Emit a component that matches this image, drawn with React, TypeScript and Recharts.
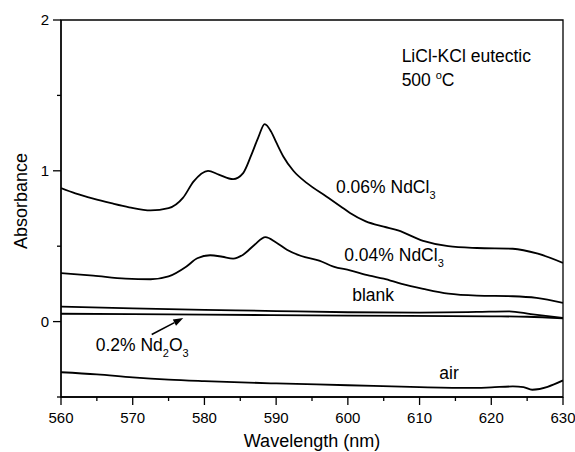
import React from 'react';
import {
    LineChart,
    Line,
    XAxis,
    YAxis,
    ReferenceArea,
    ReferenceDot,
    ReferenceLine,
} from 'recharts';

const FONT = '"Liberation Sans", Arial, Helvetica, sans-serif';

// 0.06% NdCl3
const nd006Wl = [560, 562, 564.5, 567, 569.5, 572.5, 575, 577, 578.5, 580.5, 582, 584, 585.4, 586.5, 587.5, 588.4, 589.3, 590, 591, 592.4, 594.3, 597, 599, 600.3, 602.5, 605, 607, 610.5, 614, 618, 623, 626.5, 630];
const nd006Abs = [0.885, 0.85, 0.815, 0.785, 0.758, 0.737, 0.752, 0.82, 0.93, 1.0, 0.975, 0.945, 0.985, 1.1, 1.22, 1.31, 1.26, 1.19, 1.095, 1.0, 0.918, 0.83, 0.764, 0.72, 0.665, 0.63, 0.605, 0.535, 0.5, 0.488, 0.483, 0.45, 0.389];

// 0.04% NdCl3
const nd004Wl = [560, 564.5, 569, 572.5, 575, 577.5, 579, 580.8, 582.5, 584, 585.4, 587, 588.5, 590, 591.5, 593.5, 596, 598, 600.3, 603, 605, 607.5, 610.5, 614, 618, 623, 626.3, 630];
const nd004Abs = [0.322, 0.305, 0.285, 0.281, 0.3, 0.366, 0.42, 0.44, 0.43, 0.418, 0.444, 0.51, 0.56, 0.525, 0.477, 0.435, 0.405, 0.365, 0.34, 0.305, 0.285, 0.25, 0.217, 0.185, 0.172, 0.168, 0.157, 0.124];

// blank
const blankWl = [560, 570, 580, 590, 600, 610, 618, 622.5, 625.5, 630];
const blankAbs = [0.1, 0.088, 0.078, 0.07, 0.062, 0.06, 0.064, 0.068, 0.05, 0.024];

// 0.2% Nd2O3
const oxideWl = [560, 580, 600, 620, 625, 630];
const oxideAbs = [0.052, 0.046, 0.04, 0.035, 0.032, 0.022];

// air
const airWl = [560, 565, 570, 575, 580, 590, 600, 610, 617, 620, 623, 624.5, 625.7, 630];
const airAbs = [-0.336, -0.35, -0.37, -0.385, -0.395, -0.41, -0.422, -0.435, -0.44, -0.436, -0.43, -0.435, -0.452, -0.39];

const xTicks = [560, 565, 570, 575, 580, 585, 590, 595, 600, 605, 610, 615, 620, 625, 630];
const yTicks = [-0.5, 0, 0.5, 1, 1.5, 2];

const toPoints = (wl: number[], abs: number[]) =>
    wl.map((w, i) => ({ wl: w, abs: abs[i] }));

const series = [
    toPoints(nd006Wl, nd006Abs),
    toPoints(nd004Wl, nd004Abs),
    toPoints(blankWl, blankAbs),
    toPoints(oxideWl, oxideAbs),
    toPoints(airWl, airAbs),
];

const XTick = (props: any) => {
    const { x, y, payload } = props;
    const major = payload.value % 10 === 0;
    return (
        <g>
            <line x1={x} y1={y} x2={x} y2={y + (major ? 8 : 4)} stroke="#000" strokeWidth={1.3} />
            {major && (
                <text x={x} y={y + 26} textAnchor="middle" fontSize={15} fontFamily={FONT} fill="#000">
                    {payload.value}
                </text>
            )}
        </g>
    );
};

const YTick = (props: any) => {
    const { x, y, payload } = props;
    const major = Number.isInteger(payload.value);
    return (
        <g>
            <line x1={x} y1={y} x2={x - (major ? 8 : 4)} y2={y} stroke="#000" strokeWidth={1.3} />
            {major && (
                <text x={x - 12} y={y} dy="0.36em" textAnchor="end" fontSize={15} fontFamily={FONT} fill="#000">
                    {payload.value}
                </text>
            )}
        </g>
    );
};

const Arrow = (props: any) => {
    const { x1, y1, x2, y2 } = props;
    const ang = Math.atan2(y2 - y1, x2 - x1);
    const len = 10;
    const half = 3.5;
    const bx = x2 - len * Math.cos(ang);
    const by = y2 - len * Math.sin(ang);
    const px = -Math.sin(ang) * half;
    const py = Math.cos(ang) * half;
    return (
        <g>
            <line x1={x1} y1={y1} x2={bx} y2={by} stroke="#000" strokeWidth={1.6} />
            <polygon points={`${x2},${y2} ${bx + px},${by + py} ${bx - px},${by - py}`} fill="#000" />
        </g>
    );
};

const note = (key: string, x: number, y: number, body: React.ReactNode) => (
    <ReferenceDot
        key={key}
        x={x}
        y={y}
        r={0}
        ifOverflow="visible"
        shape={(p: any) => (
            <text x={p.cx} y={p.cy} fontSize={17.5} fontFamily={FONT} fill="#000">
                {body}
            </text>
        )}
    />
);

export default function App() {
    return (
        <div style={{ position: 'absolute', left: 0, top: 0, background: '#fff' }}>
            <LineChart width={575} height={452} margin={{ top: 20, right: 12, bottom: 0, left: 0 }}>
                <XAxis
                    dataKey="wl"
                    type="number"
                    domain={[560, 630]}
                    ticks={xTicks}
                    interval={0}
                    allowDataOverflow
                    height={55}
                    tickSize={0}
                    tickMargin={0}
                    tickLine={false}
                    axisLine={{ stroke: '#000', strokeWidth: 1.3 }}
                    tick={<XTick />}
                    label={{
                        content: (p: any) => {
                            const vb = p.viewBox || { x: 61, y: 397, width: 502 };
                            return (
                                <text x={vb.x + vb.width / 2} y={vb.y + 50} textAnchor="middle" fontSize={18} fontFamily={FONT} fill="#000">
                                    Wavelength (nm)
                                </text>
                            );
                        },
                    }}
                />
                <YAxis
                    type="number"
                    domain={[-0.5, 2]}
                    ticks={yTicks}
                    interval={0}
                    allowDataOverflow
                    width={61}
                    tickSize={0}
                    tickMargin={0}
                    tickLine={false}
                    axisLine={{ stroke: '#000', strokeWidth: 1.3 }}
                    tick={<YTick />}
                    label={{
                        content: () => (
                            <text x={21} y={201} transform="rotate(-90 21 201)" textAnchor="middle" dominantBaseline="central" fontSize={18} fontFamily={FONT} fill="#000">
                                Absorbance
                            </text>
                        ),
                    }}
                />
                <ReferenceArea x1={560} x2={630} y1={-0.5} y2={2} fill="none" stroke="#000" strokeWidth={1.3} ifOverflow="visible" />
                {series.map((d, i) => (
                    <Line
                        key={i}
                        data={d}
                        dataKey="abs"
                        type="monotone"
                        stroke="#000"
                        strokeWidth={1.8}
                        dot={false}
                        activeDot={false}
                        isAnimationActive={false}
                    />
                ))}
                <ReferenceLine
                    segment={[{ x: 572.65, y: -0.086 }, { x: 577.05, y: 0.024 }]}
                    ifOverflow="visible"
                    shape={Arrow}
                />
                {note('t1', 607.5, 1.722, 'LiCl-KCl eutectic')}
                {note('t2', 607.5, 1.563, (
                    <>
                        <tspan>500 </tspan>
                        <tspan dy={-7} fontSize={11}>o</tspan>
                        <tspan dy={7}>C</tspan>
                    </>
                ))}
                {note('t3', 598.35, 0.852, (
                    <>
                        <tspan>0.06% NdCl</tspan>
                        <tspan dy={6} fontSize={11}>3</tspan>
                    </>
                ))}
                {note('t4', 599.5, 0.404, (
                    <>
                        <tspan>0.04% NdCl</tspan>
                        <tspan dy={6} fontSize={11}>3</tspan>
                    </>
                ))}
                {note('t5', 600.6, 0.134, 'blank')}
                {note('t6', 612.75, -0.379, 'air')}
                {note('t7', 564.84, -0.192, (
                    <>
                        <tspan>0.2% Nd</tspan>
                        <tspan dy={6} fontSize={11}>2</tspan>
                        <tspan dy={-6}>O</tspan>
                        <tspan dy={6} fontSize={11}>3</tspan>
                    </>
                ))}
            </LineChart>
        </div>
    );
}
